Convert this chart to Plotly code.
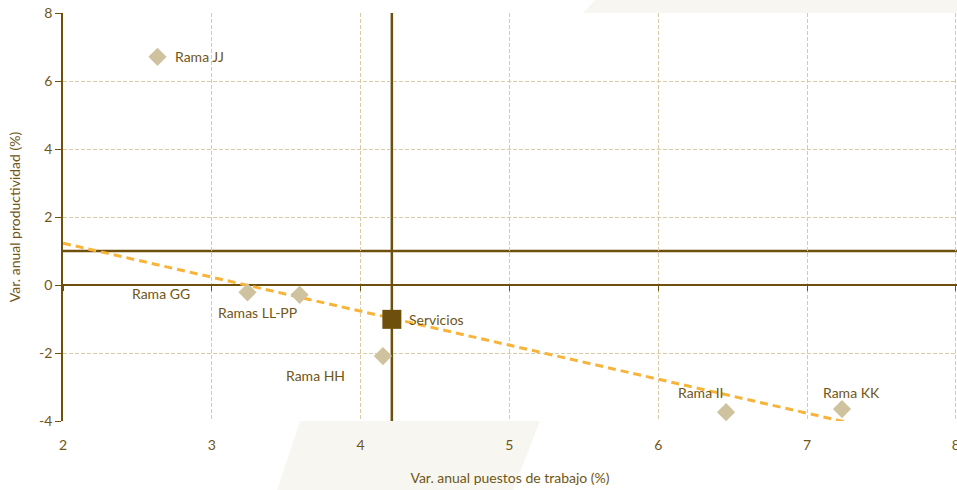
import plotly.graph_objects as go

# ---- data ----
rama_names = ["Rama JJ", "Rama GG", "Ramas LL-PP", "Rama HH", "Rama II", "Rama KK"]
rama_x = [2.635, 3.24, 3.59, 4.15, 6.456, 7.235]
rama_y = [6.71, -0.215, -0.29, -2.09, -3.74, -3.65]

serv_name = "Servicios"
serv_x = [4.21]
serv_y = [-1.01]

ref_x = 4.21   # vertical reference line
ref_y = 1.0    # horizontal reference line

trend_x = [2.0, 7.49]
trend_y = [1.23, -4.26]

x_range = [2, 8.008]
y_range = [-4, 8]
x_ticks = [2, 3, 4, 5, 6, 7, 8]
y_ticks = [-4, -2, 0, 2, 4, 6, 8]
x_ticktext = [str(v) for v in x_ticks]
y_ticktext = [str(v) for v in y_ticks]

# ---- styles ----
BROWN = "#6e500c"
TEXT = "#6f5616"
BEIGE = "#cfc29f"
GRID = "#d9cba8"
ORANGE = "#f8b43a"
FONT = "Lato, 'Open Sans', sans-serif"
FS = 14

# label offsets (px): (xanchor, xshift, yshift)
label_style = [
    ("left", 16, 0),
    ("right", -56, -1),
    ("right", -1, -18),
    ("right", -36, -19),
    ("right", 0, 20),
    ("center", 10, 17),
]

fig = go.Figure()

fig.add_trace(go.Scatter(
    x=trend_x, y=trend_y, mode="lines",
    line=dict(color=ORANGE, width=3, dash="8px,5px"),
    hoverinfo="skip", showlegend=False,
))

fig.add_trace(go.Scatter(
    x=rama_x, y=rama_y, mode="markers",
    marker=dict(symbol="diamond", size=14, color=BEIGE),
    showlegend=False, cliponaxis=False,
))

fig.add_trace(go.Scatter(
    x=serv_x, y=serv_y, mode="markers",
    marker=dict(symbol="square", size=19, color=BROWN),
    showlegend=False,
))

# invisible trace to render the tick-only axis on the zero line
fig.add_trace(go.Scatter(
    x=serv_x, y=serv_y, xaxis="x2", mode="markers",
    marker=dict(opacity=0), hoverinfo="skip", showlegend=False,
))

for name, xv, yv, (xa, xs, ys) in zip(rama_names, rama_x, rama_y, label_style):
    fig.add_annotation(x=xv, y=yv, text=name, showarrow=False,
                       xanchor=xa, yanchor="middle", xshift=xs, yshift=ys,
                       font=dict(family=FONT, size=FS, color=TEXT))
fig.add_annotation(x=serv_x[0], y=serv_y[0], text=serv_name, showarrow=False,
                   xanchor="left", yanchor="middle", xshift=15, yshift=0,
                   font=dict(family=FONT, size=FS, color=TEXT))

# reference lines
fig.add_shape(type="line", xref="x", yref="paper", x0=ref_x, x1=ref_x, y0=0, y1=1,
              line=dict(color=BROWN, width=2.5), layer="between")
fig.add_shape(type="line", xref="paper", yref="y", x0=0, x1=1, y0=ref_y, y1=ref_y,
              line=dict(color=BROWN, width=2.5), layer="between")

# decorative background bands in margins
fig.add_shape(type="path", xref="paper", yref="paper",
              path="M 0.5817 1 L 0.595 1.0319 L 1 1.0319 L 1 1 Z",
              fillcolor="#f7f6f1", line=dict(width=0), layer="below")
fig.add_shape(type="path", xref="paper", yref="paper",
              path="M 0.2651 0 L 0.5336 0 L 0.5034 -0.1691 L 0.2394 -0.1691 Z",
              fillcolor="#f7f6f1", line=dict(width=0), layer="below")

zero_pos = (0 - y_range[0]) / (y_range[1] - y_range[0])

fig.update_layout(
    width=957, height=490,
    margin=dict(l=63, r=0, t=13, b=69),
    paper_bgcolor="white", plot_bgcolor="white",
    font=dict(family=FONT, size=FS, color=TEXT),
    showlegend=False,
    xaxis=dict(
        range=x_range, tickvals=x_ticks, ticktext=x_ticktext, automargin=False,
        showgrid=True, gridcolor=GRID, ticklabeloverflow="allow",
        gridwidth=1, griddash="4px,2px", zeroline=False, showline=False,
        ticks="", ticklabelstandoff=14,
        tickfont=dict(family=FONT, size=FS, color=TEXT),
        title=dict(text="Var. anual puestos de trabajo (%)", standoff=21,
                   font=dict(family=FONT, size=FS, color=TEXT)),
    ),
    xaxis2=dict(
        range=x_range, tickvals=x_ticks, overlaying="x", anchor="free",
        position=zero_pos, side="bottom", showgrid=False, zeroline=False,
        showline=False, ticks="outside", ticklen=5, tickwidth=1.2,
        tickcolor=BROWN, showticklabels=False, automargin=False,
    ),
    yaxis=dict(
        range=y_range, tickvals=y_ticks, ticktext=y_ticktext, automargin=False,
        showgrid=True, gridcolor=GRID,
        gridwidth=1, griddash="4px,2px", zeroline=True, zerolinecolor=BROWN,
        zerolinewidth=1.5, showline=True, linecolor=BROWN, linewidth=1.5,
        ticks="outside", ticklen=6, tickwidth=1.2, tickcolor=BROWN,
        tickfont=dict(family=FONT, size=FS, color=TEXT),
        title=dict(text="Var. anual productividad (%)", standoff=15,
                   font=dict(family=FONT, size=FS, color=TEXT)),
    ),
)

fig.write_html("out.html",
               config={"displayModeBar": False},
               post_script="document.body.style.margin='0';"
                           "document.body.style.overflow='hidden';")
